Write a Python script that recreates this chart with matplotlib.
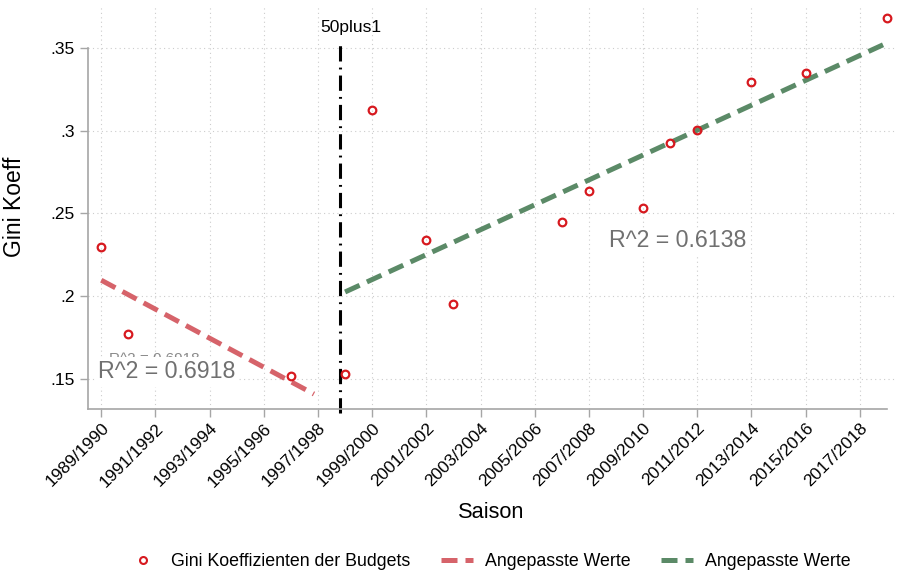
import numpy as np
import matplotlib
matplotlib.use("Agg")
import matplotlib.pyplot as plt
from matplotlib.lines import Line2D

plt.rcParams['font.family'] = ['Liberation Sans', 'DejaVu Sans']

# Data (season start year -> Gini coefficient of budgets)
years_pre = [1989, 1990, 1996]
gini_pre = [0.2298, 0.1772, 0.1516]
years_post = [1998, 1999, 2001, 2002, 2006, 2007, 2009, 2010, 2011, 2013, 2015, 2018]
gini_post = [0.1528, 0.3122, 0.2338, 0.1953, 0.2447, 0.2632, 0.2531, 0.2922,
             0.3001, 0.3295, 0.3349, 0.3678]
fit_range_pre = [1989, 1996.85]
fit_range_post = [1998, 2018]
rule_year = 1997.83
tick_years = list(range(1989, 2018, 2))
tick_labels = ["%d/%d" % (y, y + 1) for y in tick_years]
r2_pre = "R^2 = 0.6918"
r2_post = "R^2 = 0.6138"

red_pt = "#d7191f"
red_ln = "#d6636a"
green_ln = "#5b8a67"
grey = "#a6a6a6"

fig = plt.figure(figsize=(8.98, 5.71), dpi=100)
ax = fig.add_axes([0.0977, 0.283, 0.899, 0.708])

# linear fits
p1 = np.polyfit(years_pre, gini_pre, 1)
p2 = np.polyfit(years_post, gini_post, 1)
xf1 = np.array(fit_range_pre)
xf2 = np.array(fit_range_post)

ax.plot(xf1, np.polyval(p1, xf1), color=red_ln, lw=3.6, dashes=(3.2, 1.6), zorder=3)
ax.plot(xf2, np.polyval(p2, xf2), color=green_ln, lw=3.6, dashes=(3.2, 1.6), zorder=3)
ax.plot(years_pre + years_post, gini_pre + gini_post, 'o', mfc='none', mec=red_pt,
        ms=5.5, mew=1.6, zorder=4)

ax.axvline(rule_year, ymin=-0.01, ymax=0.91, color='black', lw=2.2,
           dashes=(5, 2, 0.6, 2), zorder=2, clip_on=False)
ax.text(rule_year + 0.4, 0.3625, "50plus1", ha='center', va='center', fontsize=12.5)

# R^2 annotations (the smaller one sits partly hidden behind the larger, as in the original)
ax.text(1989.28, 0.1622, r2_pre, fontsize=11, color='#8a8a8a', va='center', zorder=5)
ax.text(1988.88, 0.1542, r2_pre, fontsize=16.7, color='#707070', va='center', zorder=6,
        bbox=dict(facecolor='white', edgecolor='none', pad=2.5))
ax.text(2007.74, 0.2334, r2_post, fontsize=16.7, color='#707070', va='center', zorder=6,
        bbox=dict(facecolor='white', edgecolor='none', pad=1))

ax.set_xlim(1988.5, 2018.3)
ax.set_ylim(0.1315, 0.3758)
ax.set_xticks(tick_years)
ax.set_xticklabels(tick_labels, rotation=45, ha='right', rotation_mode='anchor', fontsize=12.5)
ax.set_yticks([0.15, 0.2, 0.25, 0.3, 0.35])
ax.set_yticklabels([".15", ".2", ".25", ".3", ".35"], fontsize=12.5)
ax.tick_params(axis='both', color=grey, length=6, width=1)
ax.tick_params(axis='x', pad=2)
ax.grid(True, color='#cccccc', ls=(0, (1, 3)), lw=0.8)

for s in ['top', 'right']:
    ax.spines[s].set_visible(False)
for s in ['left', 'bottom']:
    ax.spines[s].set_color(grey)
    ax.spines[s].set_linewidth(1.2)
ax.spines['left'].set_bounds(0.1315, 0.35)
ax.spines['bottom'].set_bounds(1988.5, 2018)

ax.set_ylabel("Gini Koeff", fontsize=16.5)
ax.yaxis.set_label_coords(-0.077, 0.5)
ax.set_xlabel("Saison", fontsize=15.7, labelpad=9)

handles = [
    Line2D([], [], ls='none', marker='o', mfc='none', mec=red_pt, ms=5, mew=1.5),
    Line2D([], [], color=red_ln, lw=3.6, dashes=(3.2, 1.6)),
    Line2D([], [], color=green_ln, lw=3.6, dashes=(3.2, 1.6)),
]
labels = ["Gini Koeffizienten der Budgets", "Angepasste Werte", "Angepasste Werte"]
ax.legend(handles, labels, loc='center', bbox_to_anchor=(0.497, -0.376), ncol=3,
          frameon=False, fontsize=12.8, handlelength=1.8, columnspacing=1.7,
          handletextpad=0.7)

fig.savefig("out.png", dpi=100)
